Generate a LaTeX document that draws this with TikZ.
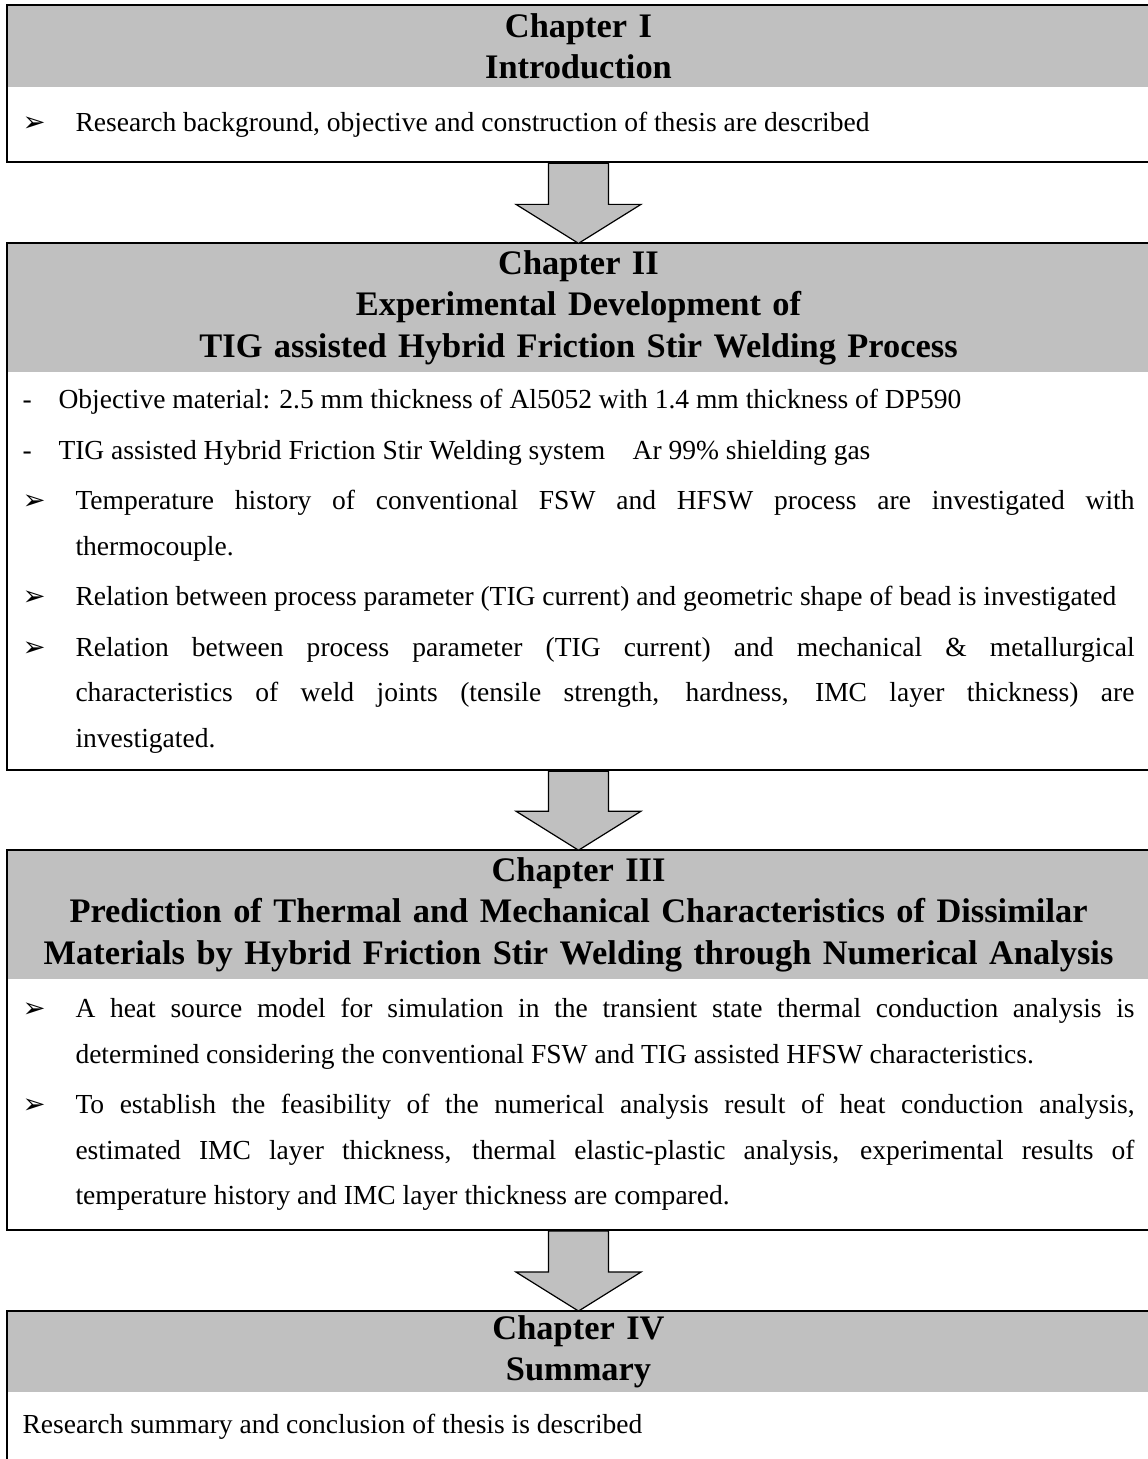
\documentclass[tikz,border=0pt]{standalone}
\usepackage{fontspec}
\setmainfont{Liberation Serif}
\newfontfamily\symfont{DejaVu Sans}
\usetikzlibrary{positioning,calc}

\definecolor{headgray}{RGB}{192,192,192}
\newdimen\pxu \pxu=0.436pt
\newcommand{\arrowbul}{{\symfont\fontsize{12}{12}\selectfont ➢}}
\newcommand{\pitem}[3]{\hangindent=#1\hangafter=1\noindent\makebox[#1][l]{#2}#3\par}

\tikzset{
  head/.style={fill=headgray, minimum width=1143\pxu, text width=1112\pxu, align=center,
    inner xsep=15.5\pxu, inner ysep=0pt, font=\fontsize{15}{18}\selectfont\bfseries},
  body/.style={minimum width=1143\pxu, text width=1112\pxu, align=justify,
    inner xsep=15.5\pxu, inner ysep=0pt, font=\fontsize{12}{19.8}\selectfont,
    execute at begin node=\setlength{\parskip}{2.2pt}},
  frame/.style={draw=black, line width=2\pxu},
  blockarrow/.style={draw=black, fill=headgray, line width=1.2\pxu, line join=miter}
}

\begin{document}
\begin{tikzpicture}[x=0.436pt,y=-0.436pt]
\useasboundingbox (0,0) rectangle (1148,1459);
\clip (0,0) rectangle (1148,1459);

\node[head, minimum height=82\pxu] (h1) at (578.5,46) {Chapter I\\Introduction};
\node[body, minimum height=74\pxu, below=0pt of h1] (b1) {%
\pitem{53\pxu}{\arrowbul}{Research background, objective and construction of thesis are described}};

\node[head, minimum height=128\pxu, below=81\pxu of b1] (h2) {Chapter II\\Experimental Development of\\TIG assisted Hybrid Friction Stir Welding Process};
\node[body, minimum height=397\pxu, below=0pt of h2] (b2) {%
\pitem{36\pxu}{-}{Objective material: 2.5 mm thickness of Al5052 with 1.4 mm thickness of DP590}
\pitem{36\pxu}{-}{TIG assisted Hybrid Friction Stir Welding system\hspace{1em}Ar 99\% shielding gas}
\pitem{53\pxu}{\arrowbul}{Temperature history of conventional FSW and HFSW process are investigated with\linebreak thermocouple.}
\pitem{53\pxu}{\arrowbul}{Relation between process parameter (TIG current) and geometric shape of bead is investigated}
\pitem{53\pxu}{\arrowbul}{Relation between process parameter (TIG current) and mechanical \& metallurgical\linebreak characteristics of weld joints (tensile strength, hardness, IMC layer thickness) are\linebreak investigated.}};

\node[head, minimum height=128\pxu, below=80\pxu of b2] (h3) {Chapter III\\Prediction of Thermal and Mechanical Characteristics of Dissimilar\\Materials by Hybrid Friction Stir Welding through Numerical Analysis};
\node[body, minimum height=250\pxu, below=0pt of h3] (b3) {%
\pitem{53\pxu}{\arrowbul}{A heat source model for simulation in the transient state thermal conduction analysis is\linebreak determined considering the conventional FSW and TIG assisted HFSW characteristics.}
\pitem{53\pxu}{\arrowbul}{To establish the feasibility of the numerical analysis result of heat conduction analysis,\linebreak estimated IMC layer thickness, thermal elastic-plastic analysis, experimental results of\linebreak temperature history and IMC layer thickness are compared.}};

\node[head, minimum height=80\pxu, below=81\pxu of b3] (h4) {Chapter IV\\Summary};
\node[body, minimum height=68\pxu, below=0pt of h4] (b4) {%
\noindent Research summary and conclusion of thesis is described};

\foreach \h/\b in {h1/b1,h2/b2,h3/b3}
  \draw[frame] (\h.north west) rectangle (\b.south east);
\draw[frame] (h4.north west) rectangle ($(b4.south east)+(0,30)$);

\foreach \a/\b in {b1/h2,b2/h3,b3/h4}
  \draw[blockarrow] ($(\a.south)+(-30,1)$) -- ($(\a.south)+(30,1)$) -- ($(\b.north)+(30,-39)$)
    -- ($(\b.north)+(62.5,-39)$) -- (\b.north) -- ($(\b.north)+(-62.5,-39)$)
    -- ($(\b.north)+(-30,-39)$) -- cycle;
\end{tikzpicture}
\end{document}
